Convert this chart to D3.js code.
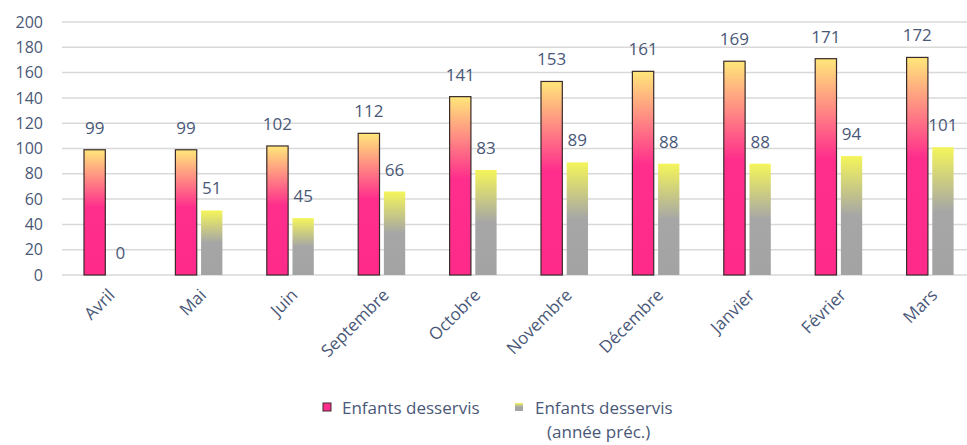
<!DOCTYPE html>
<html>
<head>
<meta charset="utf-8">
<script src="https://cdn.jsdelivr.net/npm/d3@7"></script>
<style>
  body { margin: 0; background: #fff; }
  text { font-family: "Open Sans", Lato, sans-serif; fill: #4a5878; }
</style>
</head>
<body>
<svg id="chart"></svg>
<script>
var months = ["Avril", "Mai", "Juin", "Septembre", "Octobre", "Novembre", "Décembre", "Janvier", "Février", "Mars"];
var served = [99, 99, 102, 112, 141, 153, 161, 169, 171, 172];
var servedPrev = [0, 51, 45, 66, 83, 89, 88, 88, 94, 101];
var yTicks = [0, 20, 40, 60, 80, 100, 120, 140, 160, 180, 200];
var seriesNames = ["cur", "prev"];

var W = 967, H = 445;
var svg = d3.select("#chart").attr("width", W).attr("height", H);

var defs = svg.append("defs");
var gPink = defs.append("linearGradient").attr("id", "gPink")
    .attr("x1", 0).attr("y1", 0).attr("x2", 0).attr("y2", 1);
gPink.append("stop").attr("offset", "0%").attr("stop-color", "#ffe77a");
gPink.append("stop").attr("offset", "46%").attr("stop-color", "#ff2e8c");
gPink.append("stop").attr("offset", "100%").attr("stop-color", "#ff2a8a");
var gGray = defs.append("linearGradient").attr("id", "gGray")
    .attr("x1", 0).attr("y1", 0).attr("x2", 0).attr("y2", 1);
gGray.append("stop").attr("offset", "0%").attr("stop-color", "#f4f55a");
gGray.append("stop").attr("offset", "50%").attr("stop-color", "#a6a6a6");
gGray.append("stop").attr("offset", "100%").attr("stop-color", "#a3a3a3");

var x0 = d3.scaleBand().domain(months).range([62, 976]);
var x1 = d3.scaleBand().domain(seriesNames).range([22, 69]).paddingInner(0.17);
var y = d3.scaleLinear().domain([0, 200]).range([275, 22]);

// gridlines
svg.append("g").selectAll("line").data(yTicks).enter().append("line")
    .attr("x1", 62).attr("x2", W)
    .attr("y1", function (d) { return y(d); })
    .attr("y2", function (d) { return y(d); })
    .attr("stroke", "#d9d9d9").attr("stroke-width", 1.5);

// y axis labels
var yAxis = d3.axisLeft(y).tickValues(yTicks).tickSize(0).tickPadding(0);
var ya = svg.append("g").attr("transform", "translate(43,0)").call(yAxis);
ya.select(".domain").remove();
ya.selectAll("text").style("font-size", "16px").attr("fill", "#4a5878")
    .style("font-family", "'Open Sans', sans-serif");

var data = months.map(function (m, i) {
    return { month: m, cur: served[i], prev: servedPrev[i] };
});

var groups = svg.append("g").selectAll("g").data(data).enter().append("g")
    .attr("transform", function (d) { return "translate(" + x0(d.month) + ",0)"; });

groups.append("rect")
    .attr("x", x1("cur"))
    .attr("width", x1.bandwidth())
    .attr("y", function (d) { return y(d.cur); })
    .attr("height", function (d) { return y(0) - y(d.cur); })
    .attr("fill", "url(#gPink)")
    .attr("stroke", "#3a2a2a").attr("stroke-width", 1.2);

groups.append("rect")
    .attr("x", x1("prev"))
    .attr("width", x1.bandwidth())
    .attr("y", function (d) { return y(d.prev); })
    .attr("height", function (d) { return y(0) - y(d.prev); })
    .attr("fill", "url(#gGray)");

groups.append("text")
    .attr("x", x1("cur") + x1.bandwidth() / 2)
    .attr("y", function (d) { return y(d.cur) - 16; })
    .attr("text-anchor", "middle")
    .style("font-size", "17px")
    .text(function (d) { return d.cur; });

groups.append("text")
    .attr("x", x1("prev") + x1.bandwidth() / 2)
    .attr("y", function (d) { return y(d.prev) - 16; })
    .attr("text-anchor", "middle")
    .style("font-size", "17px")
    .text(function (d) { return d.prev; });

// x labels
svg.append("g").selectAll("text").data(months).enter().append("text")
    .attr("transform", function (d) {
        return "translate(" + (x0(d) + x0.bandwidth() / 2 + 4) + ",292) rotate(-45)";
    })
    .attr("text-anchor", "end")
    .attr("dy", "0.35em")
    .style("font-size", "17px")
    .text(function (d) { return d; });

// legend
var lg = svg.append("g");
lg.append("rect").attr("x", 323).attr("y", 403).attr("width", 8).attr("height", 8)
    .attr("fill", "#ff2e8c").attr("stroke", "#3a2a2a").attr("stroke-width", 1);
lg.append("text").attr("x", 342).attr("y", 414).style("font-size", "17px").text("Enfants desservis");
lg.append("rect").attr("x", 515).attr("y", 403).attr("width", 8).attr("height", 8)
    .attr("fill", "url(#gGray)");
lg.append("text").attr("x", 535).attr("y", 414).style("font-size", "17px").text("Enfants desservis");
lg.append("text").attr("x", 547).attr("y", 438).style("font-size", "17px").text("(année préc.)");
</script>
</body>
</html>
